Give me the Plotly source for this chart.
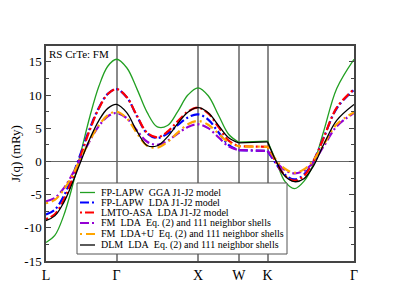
import plotly.graph_objects as go

# path coordinate along L-Γ-X-W-K-Γ
q = [0.0, 0.108, 0.217, 0.325, 0.433, 0.541, 0.650, 0.758, 0.866,
     0.991, 1.116, 1.241, 1.366, 1.491, 1.616, 1.741, 1.866,
     1.991, 2.116, 2.241, 2.366,
     2.720,
     2.826, 2.932, 3.048, 3.165, 3.282, 3.409, 3.568, 3.780]

tick_pos = [0.0, 0.866, 1.866, 2.366, 2.720, 3.780]
tick_text = ["L", "Γ", "X", "W", "K", "Γ"]

gga_j1j2 = [-12.2, -11.15, -8.16, -3.68, 1.6, 6.89, 11.36, 14.35, 15.4,
            14.12, 10.94, 7.39, 5.21, 5.41, 7.52, 10.01, 11.1,
            9.9, 7.0, 4.1, 2.9,
            3.05,
            0.0, -3.0, -4.1, -3.0, -0.4, 4.6, 11.0, 15.4]
lda_j1j2 = [-8.0, -7.28, -5.23, -2.17, 1.45, 5.07, 8.13, 10.18, 10.9,
            9.68, 6.83, 4.22, 3.53, 4.21, 5.46, 6.63, 7.1,
            6.31, 4.4, 2.49, 1.7,
            1.6,
            -0.4, -2.0, -2.7, -2.0, 0.1, 3.6, 8.0, 10.8]
lmto_j1j2 = [-8.7, -7.96, -5.83, -2.65, 1.1, 4.85, 8.03, 10.16, 10.9,
             9.70, 6.89, 4.31, 3.64, 4.49, 6.05, 7.51, 8.1,
             7.25, 5.2, 3.15, 2.3,
             2.2,
             -0.2, -2.1, -2.9, -2.2, 0.0, 3.6, 8.1, 10.9]
fm_lda = [-6.0, -5.5, -4.05, -1.9, 0.65, 3.2, 5.35, 6.8, 7.3,
          6.51, 4.66, 2.97, 2.52, 3.11, 4.19, 5.19, 5.6,
          5.03, 3.65, 2.27, 1.7,
          1.6,
          -0.1, -1.3, -1.8, -1.4, -0.1, 2.3, 5.3, 7.3]
fm_ldau = [-6.3, -5.78, -4.28, -2.04, 0.6, 3.24, 5.48, 6.98, 7.5,
           6.52, 4.27, 2.37, 2.08, 2.94, 4.34, 5.6, 6.1,
           5.54, 4.2, 2.86, 2.3,
           2.2,
           0.2, -1.1, -1.7, -1.2, 0.2, 2.6, 5.6, 7.4]
dlm_lda = [-8.9, -8.2, -6.2, -3.2, 0.2, 3.5, 6.2, 8.0, 8.6,
           7.35, 4.56, 2.41, 2.37, 3.71, 5.7, 7.43, 8.1,
           7.33, 5.45, 3.57, 2.8,
           2.95,
           0.0, -2.2, -3.05, -2.6, -0.7, 2.6, 6.2, 8.6]

NB = "\u00a0"
names = [f"FP-LAPW{NB}{NB}GGA J1-J2 model",
         f"FP-LAPW{NB}{NB}LDA J1-J2 model",
         f"LMTO-ASA{NB}{NB}LDA J1-J2 model",
         f"FM{NB}{NB}LDA{NB}{NB}Eq. (2) and 111 neighbor shells",
         f"FM{NB}{NB}LDA+U{NB}{NB}Eq. (2) and 111 neighbor shells",
         f"DLM{NB}{NB}LDA{NB}{NB}Eq. (2) and 111 neighbor shells"]
series = [gga_j1j2, lda_j1j2, lmto_j1j2, fm_lda, fm_ldau, dlm_lda]
colors = ["#22a022", "#0000ff", "#ff0000", "#9400d3", "#ffa500", "#000000"]
dashes = ["solid", "9px,3px,2px,3px", "2px,3px,9px,3px", "9px,3px,2px,3px",
          "2px,4px,9px,4px", "solid"]
widths = [1.3, 2.2, 2.2, 2.2, 2.2, 1.3]

SERIF = "Liberation Serif, Times New Roman, serif"

iW = q.index(2.366)
iK = q.index(2.720)


def split(vals):
    # break the line at W and K so each path segment is smoothed on its own
    xs = q[:iW + 1] + [None] + q[iW:iK + 1] + [None] + q[iK:]
    ys = vals[:iW + 1] + [None] + vals[iW:iK + 1] + [None] + vals[iK:]
    return xs, ys


fig = go.Figure()
for nm, vals, c, d, w in zip(names, series, colors, dashes, widths):
    xs, ys = split(vals)
    fig.add_trace(go.Scatter(x=xs, y=ys, mode="lines", name=nm,
                             line=dict(color=c, dash=d, width=w, shape="spline"),
                             connectgaps=False, showlegend=False))

# manual legend (compact rows); positions in page pixels of the plot area
L0, T0 = 46, 46
PW, PH = 308, 215
def px2x(p):
    return (p - L0) / PW
def py2y(p):
    return (T0 + PH - p) / PH

shapes = [dict(type="rect", xref="paper", yref="paper",
               x0=px2x(77), x1=px2x(287), y0=py2y(254), y1=py2y(183),
               fillcolor="white", line=dict(color="#555", width=1), layer="above")]
annotations = []
row_y = [192.5, 202.5, 212.5, 223, 234, 245]
for nm, c, d, w, ry in zip(names, colors, dashes, widths, row_y):
    shapes.append(dict(type="line", xref="paper", yref="paper",
                       x0=px2x(80), x1=px2x(95), y0=py2y(ry), y1=py2y(ry),
                       line=dict(color=c, dash=d, width=w), layer="above"))
    annotations.append(dict(xref="paper", yref="paper", x=px2x(99), y=py2y(ry),
                            text=nm, showarrow=False, xanchor="left", yanchor="middle",
                            font=dict(family=SERIF, size=10, color="black")))

annotations.append(dict(xref="paper", yref="paper", x=px2x(47), y=py2y(46),
                        text="RS CrTe: FM", showarrow=False, xanchor="left", yanchor="top",
                        font=dict(family=SERIF, size=11, color="black")))

# the page body adds an 8px offset, so margins are shifted to compensate
fig.update_layout(
    width=399, height=308,
    margin=dict(l=38, r=53, t=38, b=55, autoexpand=False),
    paper_bgcolor="white", plot_bgcolor="white",
    font=dict(family=SERIF, size=13, color="black"),
    shapes=shapes, annotations=annotations,
    showlegend=False,
)
fig.update_xaxes(range=[0, 3.780], tickmode="array", tickvals=tick_pos, ticktext=tick_text,
                 showgrid=True, gridcolor="#8a8a8a", gridwidth=1.5,
                 showline=True, linecolor="#444", linewidth=1.5, mirror=True,
                 ticks="", zeroline=False, tickfont=dict(family=SERIF, size=14),
                 automargin=False)
fig.update_yaxes(range=[-15, 17.4], tickmode="array",
                 tickvals=[-15, -10, -5, 0, 5, 10, 15],
                 ticktext=["-15", "-10", "-5", "0", "5", "10", "15"],
                 showgrid=False, zeroline=True, zerolinecolor="#666", zerolinewidth=1,
                 showline=True, linecolor="#444", linewidth=1.5, mirror="ticks",
                 ticks="inside", ticklen=5, tickcolor="#444",
                 minor=dict(tickvals=[-12.5, -7.5, -2.5, 2.5, 7.5, 12.5], ticks="inside",
                            ticklen=3, tickcolor="#444"),
                 title=dict(text="J(q) (mRy)", standoff=8, font=dict(family=SERIF, size=13)),
                 tickfont=dict(family=SERIF, size=13), automargin=False)

fig.write_html("out.html")
